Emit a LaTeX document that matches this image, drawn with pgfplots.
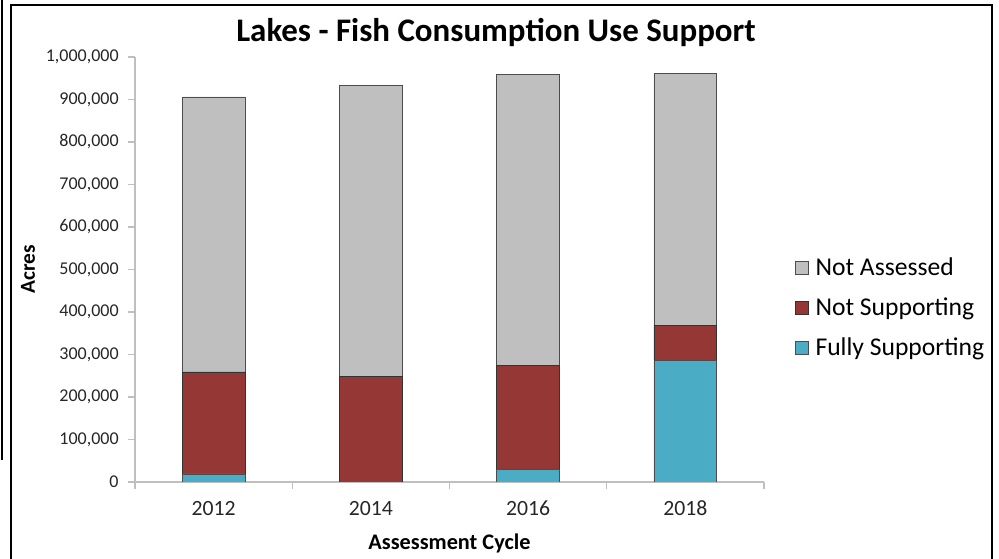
\documentclass[border=0pt]{standalone}
\usepackage{pgfplots}
\pgfplotsset{compat=1.18}
\usepackage{fontspec}
\setmainfont{Carlito}
\definecolor{naGray}{HTML}{BFBFBF}
\definecolor{nsRed}{HTML}{953735}
\definecolor{fsBlue}{HTML}{4BACC6}
\definecolor{txt}{HTML}{262626}
\definecolor{axgray}{HTML}{BFBFBF}

\begin{document}
\begin{tikzpicture}[x=0.75pt,y=0.75pt]
\path[use as bounding box] (0,0) rectangle (999,559);
% page frame
\draw[line width=1.5pt] (11,-5) -- (11,554) -- (992,554) -- (992,-5);
\draw[line width=1.5pt] (2,559) -- (2,99);
\node[font=\bfseries\fontsize{24.7}{29}\selectfont, text=black] at (496,526) {Lakes - Fish Consumption Use Support};
\begin{axis}[
  at={(101.25pt,57.75pt)}, anchor=south west,
  scale only axis, width=471.75pt, height=318.75pt,
  xmin=-0.5, xmax=3.5, ymin=0, ymax=1000000,
  ybar stacked, bar width=0.4,
  axis x line*=bottom, axis y line*=left,
  axis line style={draw=axgray, line width=0.8pt},
  xtick={-0.5,0.5,1.5,2.5,3.5}, xticklabels={},
  extra x ticks={0,1,2,3}, extra x tick labels={2012,2014,2016,2018},
  extra x tick style={major tick length=0pt, xticklabel style={anchor=base, yshift=-25.5pt}},
  tick align=outside, major tick length=5pt,
  tick style={draw=axgray, line width=0.8pt},
  ytick={0,100000,...,1000000}, scaled y ticks=false,
  /pgf/number format/.cd, fixed, 1000 sep={,}, assume math mode=true, /pgfplots/.cd,
  yticklabel style={font=\fontsize{13.5}{16}\selectfont, text=txt, xshift=-3.75pt},
  xticklabel style={font=\fontsize{16.3}{19}\selectfont, text=txt},
  ylabel={\bfseries Acres}, xlabel={\bfseries Assessment Cycle},
  every axis y label/.style={at={(axis description cs:-0.170,0.5)}, rotate=90, anchor=center, font=\fontsize{16}{19}\selectfont},
  every axis x label/.style={at={(axis description cs:0.5,-0.1435)}, anchor=center, font=\fontsize{16.7}{19}\selectfont},
  reverse legend,
  legend cell align=left,
  legend image code/.code={\draw[#1] (0pt,-4.9pt) rectangle (9.75pt,4.9pt);},
  legend style={at={(axis description cs:1.049,0.41)}, anchor=west, draw=none, fill=none,
    font=\fontsize{19.2}{22}\selectfont, row sep=11pt, inner sep=0pt,
    nodes={inner xsep=5pt}},
]
\addplot[fill=fsBlue, draw=black!70, line width=0.6pt] coordinates {(0,19000) (1,0) (2,30000) (3,287000)};
\addplot[fill=nsRed, draw=black!80, line width=0.6pt] coordinates {(0,240000) (1,249000) (2,245000) (3,82000)};
\addplot[fill=naGray, draw=black!70, line width=0.6pt] coordinates {(0,647000) (1,683000) (2,683000) (3,593000)};
\legend{Fully Supporting, Not Supporting, Not Assessed}
\end{axis}
\end{tikzpicture}
\end{document}
